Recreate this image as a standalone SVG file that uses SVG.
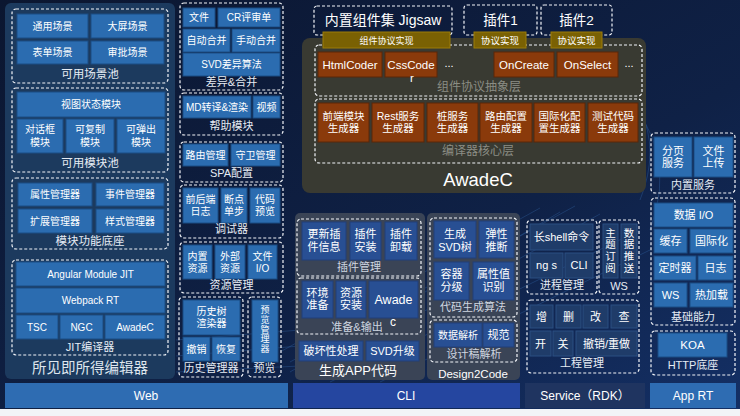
<svg xmlns="http://www.w3.org/2000/svg" width="740" height="416" viewBox="0 0 740 416">
<defs>
<linearGradient id="bg" x1="0" y1="0" x2="1" y2="1">
<stop offset="0" stop-color="#0b1630"/>
<stop offset="0.6" stop-color="#0f2146"/>
<stop offset="1" stop-color="#143066"/>
</linearGradient>
<style>
.t{font-family:"Liberation Sans","Noto Sans CJK SC",sans-serif;fill:#fff;text-anchor:middle;font-size:10px}
.s11{font-size:11px}
.lb{font-family:"Liberation Sans","Noto Sans CJK SC",sans-serif;fill:#e6ecf4;text-anchor:middle;font-size:11px}
.gl{fill:#8b8d84;font-size:12px}
.bx{fill:#2b6cb0;stroke:#1b4c84;stroke-width:1}
.bm{fill:#284f93;stroke:#203f78;stroke-width:1}
.bd{fill:#1f3c69;stroke:#2b4e82;stroke-width:1}
.br{fill:#8a3a0b;stroke:#5a2608;stroke-width:1}
.gd{fill:#7a6103;stroke:#9c7c08;stroke-width:1}
.dg{fill:none;stroke:#f2f4f8;stroke-width:1.2;stroke-dasharray:3 2}
.bar{stroke:none}
.dl{fill:none;stroke:#3d7cc4;stroke-width:0.8;opacity:0.35}
</style>
</defs>
<rect width="740" height="416" fill="url(#bg)"/>
<g id="background-lines">
<path class="dl" d="M290,372 L560,212"/>
<path class="dl" d="M290,362 L575,206"/>
<path class="dl" d="M300,380 L600,214"/>
<path class="dl" d="M280,352 L540,208"/>
<path class="dl" d="M330,382 L640,230"/>
<path class="dl" d="M380,382 L650,250"/>
<path class="dl" d="M176,340 L300,330"/>
<path class="dl" d="M176,356 L300,346"/>
<path class="dl" d="M176,372 L300,366"/>
<path class="dl" d="M640,110 Q660,150 640,200"/>
<path class="dl" d="M620,90 Q680,150 650,230"/>
</g>
<rect x="0" y="409" width="740" height="7" fill="#f2f4f7"/>

<!-- Web panel -->
<g id="web-panel">
<rect x="5" y="3" width="170" height="376" rx="6" fill="#1c3a5e"/>
<text class="lb" x="90" y="373" style="font-size:14.5px;fill:#dfe6ee">所见即所得编辑器</text>
</g>

<g id="scene-pool">
<rect class="dg" x="12" y="9" width="156" height="74" rx="4"/>
<rect class="bx" x="17" y="14" width="71" height="24"/><text class="t" x="52.5" y="29.5">通用场景</text>
<rect class="bx" x="91" y="14" width="73" height="24"/><text class="t" x="127.5" y="29.5">大屏场景</text>
<rect class="bx" x="17" y="41" width="71" height="23"/><text class="t" x="52.5" y="56">表单场景</text>
<rect class="bx" x="91" y="41" width="73" height="23"/><text class="t" x="127.5" y="56">审批场景</text>
<text class="lb" x="90" y="77.5" style="font-size:11.5px">可用场景池</text>
</g>

<g id="module-pool">
<rect class="dg" x="12" y="88" width="156" height="84" rx="4"/>
<rect class="bx" x="17" y="92" width="148" height="25"/><text class="t" x="91" y="108">视图状态模块</text>
<rect class="bx" x="17" y="119" width="46" height="34"/><text class="t" x="40" y="133"><tspan x="40">对话框</tspan><tspan x="40" dy="12.5">模块</tspan></text>
<rect class="bx" x="66" y="119" width="48" height="34"/><text class="t" x="90" y="133"><tspan x="90">可复制</tspan><tspan x="90" dy="12.5">模块</tspan></text>
<rect class="bx" x="117" y="119" width="48" height="34"/><text class="t" x="141" y="133"><tspan x="141">可弹出</tspan><tspan x="141" dy="12.5">模块</tspan></text>
<text class="lb" x="90" y="166.5" style="font-size:11.5px">可用模块池</text>
</g>

<g id="module-base">
<rect class="dg" x="12" y="178" width="156" height="71" rx="4"/>
<rect class="bx" x="18" y="183" width="74" height="23"/><text class="t" x="55" y="198">属性管理器</text>
<rect class="bx" x="96" y="183" width="68" height="23"/><text class="t" x="130" y="198">事件管理器</text>
<rect class="bx" x="18" y="209" width="74" height="24"/><text class="t" x="55" y="224.5">扩展管理器</text>
<rect class="bx" x="96" y="209" width="68" height="24"/><text class="t" x="130" y="224.5">样式管理器</text>
<text class="lb" x="90" y="244.5" style="font-size:11.5px">模块功能底座</text>
</g>

<g id="jit">
<rect class="dg" x="12" y="260" width="156" height="95" rx="4"/>
<rect class="bx" x="16" y="262" width="149" height="24"/><text class="t" x="90.5" y="277.5">Angular Module JIT</text>
<rect class="bx" x="16" y="288" width="149" height="25"/><text class="t" x="90.5" y="304">Webpack RT</text>
<rect class="bx" x="16" y="315" width="42" height="24"/><text class="t" x="37" y="330.5">TSC</text>
<rect class="bx" x="60" y="315" width="43" height="24"/><text class="t" x="81.5" y="330.5">NGC</text>
<rect class="bx" x="105" y="315" width="60" height="24"/><text class="t" x="135" y="330.5">AwadeC</text>
<text class="lb" x="90" y="351">JIT编译器</text>
</g>

<!-- column 2 -->
<g id="diff-merge">
<rect class="dg" x="180" y="3" width="103" height="87" rx="4"/>
<rect class="bx" x="183" y="8" width="32" height="19"/><text class="t" x="199" y="21">文件</text>
<rect class="bx" x="218" y="8" width="62" height="19"/><text class="t" x="249" y="21">CR评审单</text>
<rect class="bx" x="183" y="29" width="47" height="23"/><text class="t" x="206.5" y="44">自动合并</text>
<rect class="bx" x="232" y="29" width="48" height="23"/><text class="t" x="256" y="44">手动合并</text>
<rect class="bx" x="183" y="53" width="97" height="23"/><text class="t" x="231.5" y="68">SVD差异算法</text>
<text class="lb" x="231.5" y="86">差异&amp;合并</text>
</g>

<g id="help">
<rect class="dg" x="180" y="93" width="103" height="42" rx="4"/>
<rect class="bx" x="183" y="96" width="68" height="22"/><text class="t" x="217" y="110.5">MD转译&amp;渲染</text>
<rect class="bx" x="253" y="96" width="27" height="22"/><text class="t" x="266.5" y="110.5">视频</text>
<text class="lb" x="231.5" y="130">帮助模块</text>
</g>

<g id="spa">
<rect class="dg" x="180" y="142" width="103" height="40" rx="4"/>
<rect class="bx" x="183" y="144" width="45" height="22"/><text class="t" x="205.5" y="158.5">路由管理</text>
<rect class="bx" x="231" y="144" width="49" height="22"/><text class="t" x="255.5" y="158.5">守卫管理</text>
<text class="lb" x="231.5" y="177">SPA配置</text>
</g>

<g id="debugger">
<rect class="dg" x="180" y="185" width="103" height="53" rx="4"/>
<rect class="bx" x="183" y="188" width="35" height="35"/><text class="t" x="200.5" y="202.5"><tspan x="200.5">前后端</tspan><tspan x="200.5" dy="12.5">日志</tspan></text>
<rect class="bx" x="221" y="188" width="26" height="35"/><text class="t" x="234" y="202.5"><tspan x="234">断点</tspan><tspan x="234" dy="12.5">单步</tspan></text>
<rect class="bx" x="250" y="188" width="30" height="35"/><text class="t" x="265" y="202.5"><tspan x="265">代码</tspan><tspan x="265" dy="12.5">预览</tspan></text>
<text class="lb" x="231.5" y="233">调试器</text>
</g>

<g id="resources">
<rect class="dg" x="180" y="242" width="103" height="51" rx="4"/>
<rect class="bx" x="183" y="245" width="29" height="34"/><text class="t" x="197.5" y="259.5"><tspan x="197.5">内置</tspan><tspan x="197.5" dy="12">资源</tspan></text>
<rect class="bx" x="215" y="245" width="30" height="34"/><text class="t" x="230" y="259.5"><tspan x="230">外部</tspan><tspan x="230" dy="12">资源</tspan></text>
<rect class="bx" x="248" y="245" width="29" height="34"/><text class="t" x="262.5" y="259.5"><tspan x="262.5">文件</tspan><tspan x="262.5" dy="12">I/O</tspan></text>
<text class="lb" x="231.5" y="289">资源管理</text>
</g>

<g id="history">
<rect class="dg" x="179" y="297" width="64" height="80" rx="4"/>
<rect class="bx" x="183" y="300" width="57" height="35"/><text class="t" x="211.5" y="314.5"><tspan x="211.5">历史树</tspan><tspan x="211.5" dy="12">渲染器</tspan></text>
<rect class="bx" x="183" y="337" width="27" height="24"/><text class="t" x="196.5" y="352.5">撤销</text>
<rect class="bx" x="212" y="337" width="28" height="24"/><text class="t" x="226" y="352.5">恢复</text>
<text class="lb" x="211" y="372">历史管理器</text>
</g>

<g id="preview">
<rect class="dg" x="248" y="297" width="33" height="80" rx="4"/>
<rect class="bx" x="252" y="300" width="26" height="62"/>
<text class="t" x="265" y="313" style="font-size:9px"><tspan x="265">预</tspan><tspan x="265" dy="9.8">览</tspan><tspan x="265" dy="9.8">管</tspan><tspan x="265" dy="9.8">理</tspan><tspan x="265" dy="9.8">器</tspan></text>
<text class="lb" x="264.5" y="372">预览</text>
</g>

<!-- AwadeC -->
<g id="awadec">
<rect x="302" y="38" width="344" height="155" rx="8" fill="#393a32"/>
<text class="t" x="478" y="185.5" style="font-size:18.5px">AwadeC</text>
</g>

<g id="jigsaw">
<rect class="dg" x="314" y="6" width="138" height="29" rx="3"/>
<text class="t" x="383" y="25" style="font-size:14px">内置组件集 Jigsaw</text>
</g>
<g id="plugin1">
<rect class="dg" x="464" y="5" width="73" height="30" rx="3"/>
<text class="t" x="500.5" y="25" style="font-size:13.5px">插件1</text>
</g>
<g id="plugin2">
<rect class="dg" x="541" y="5" width="71" height="30" rx="3"/>
<text class="t" x="576.5" y="25" style="font-size:13.5px">插件2</text>
</g>

<g id="protocol-layer">
<rect class="dg" x="315" y="45" width="327" height="51" rx="4"/>
<rect class="br" x="318" y="52" width="64" height="25"/><text class="t" x="350" y="68.5" style="font-size:11.5px">HtmlCoder</text>
<rect class="br" x="385" y="52" width="52" height="25"/><text class="t" x="411" y="68.5" style="font-size:11.5px">CssCode</text>
<text class="t" x="412" y="82" style="font-size:11.5px">r</text>
<text class="t" x="449" y="67" style="font-size:11px">...</text>
<rect class="br" x="494" y="52" width="60" height="25"/><text class="t" x="524" y="68.5" style="font-size:11.5px">OnCreate</text>
<rect class="br" x="557" y="52" width="61" height="25"/><text class="t" x="587.5" y="68.5" style="font-size:11.5px">OnSelect</text>
<text class="t" x="629" y="67" style="font-size:11px">...</text>
<text class="lb gl" x="479" y="90.5">组件协议抽象层</text>
</g>

<g id="impl-bars">
<rect class="gd" x="323" y="32" width="127" height="16"/><text class="t" x="386.5" y="43.5" style="font-size:9px">组件协议实现</text>
<rect class="gd" x="474" y="32" width="52" height="16"/><text class="t" x="500" y="43.5" style="font-size:9.5px">协议实现</text>
<rect class="gd" x="551" y="32" width="51" height="16"/><text class="t" x="576.5" y="43.5" style="font-size:9.5px">协议实现</text>
</g>

<g id="core-layer">
<rect class="dg" x="315" y="99" width="327" height="64" rx="4"/>
<rect class="br" x="318" y="103" width="51" height="39"/><text class="t" x="343.5" y="119.5" style="font-size:10.5px"><tspan x="343.5">前端模块</tspan><tspan x="343.5" dy="12.5">生成器</tspan></text>
<rect class="br" x="372" y="103" width="52" height="39"/><text class="t" x="398" y="119.5" style="font-size:10.5px"><tspan x="398">Rest服务</tspan><tspan x="398" dy="12.5">生成器</tspan></text>
<rect class="br" x="427" y="103" width="51" height="39"/><text class="t" x="452.5" y="119.5" style="font-size:10.5px"><tspan x="452.5">桩服务</tspan><tspan x="452.5" dy="12.5">生成器</tspan></text>
<rect class="br" x="480" y="103" width="52" height="39"/><text class="t" x="506" y="119.5" style="font-size:10.5px"><tspan x="506">路由配置</tspan><tspan x="506" dy="12.5">生成器</tspan></text>
<rect class="br" x="534" y="103" width="51" height="39"/><text class="t" x="559.5" y="119.5" style="font-size:10.5px"><tspan x="559.5">国际化配</tspan><tspan x="559.5" dy="12.5">置生成器</tspan></text>
<rect class="br" x="588" y="103" width="50" height="39"/><text class="t" x="613" y="119.5" style="font-size:10.5px"><tspan x="613">测试代码</tspan><tspan x="613" dy="12.5">生成器</tspan></text>
<text class="lb gl" x="478" y="154.5">编译器核心层</text>
</g>

<!-- CLI -->
<g id="gen-app">
<rect x="295" y="213" width="130" height="167" rx="5" fill="#3a4456"/>
<text class="t" x="358" y="375" style="font-size:13px">生成APP代码</text>
</g>
<g id="plugin-mgmt">
<rect class="dg" x="297" y="219" width="124" height="57" rx="4"/>
<rect class="bm" x="302" y="222" width="44" height="38"/><text class="t s11" x="324" y="237.5"><tspan x="324">更新插</tspan><tspan x="324" dy="13">件信息</tspan></text>
<rect class="bm" x="350" y="222" width="31" height="38"/><text class="t s11" x="365.5" y="237.5"><tspan x="365.5">插件</tspan><tspan x="365.5" dy="13">安装</tspan></text>
<rect class="bm" x="385" y="222" width="32" height="38"/><text class="t s11" x="401" y="237.5"><tspan x="401">插件</tspan><tspan x="401" dy="13">卸载</tspan></text>
<text class="lb" x="359" y="271" style="fill:#cfd6e0">插件管理</text>
</g>
<g id="prep-output">
<rect class="dg" x="297" y="278" width="124" height="56" rx="4"/>
<rect class="bm" x="302" y="281" width="31" height="37"/><text class="t s11" x="317.5" y="296.5"><tspan x="317.5">环境</tspan><tspan x="317.5" dy="12.5">准备</tspan></text>
<rect class="bm" x="336" y="281" width="30" height="37"/><text class="t s11" x="351" y="296.5"><tspan x="351">资源</tspan><tspan x="351" dy="12.5">安装</tspan></text>
<rect class="bm" x="369" y="281" width="49" height="37"/><text class="t" x="393.5" y="304" style="font-size:12.5px">Awade</text>
<text class="t" x="393" y="326" style="font-size:12px">c</text>
<text class="lb" x="357" y="331" style="fill:#cfd6e0">准备&amp;输出</text>
</g>
<g id="break-svd">
<rect class="bm" x="299" y="341" width="64" height="20"/><text class="t s11" x="331" y="355">破坏性处理</text>
<rect class="bm" x="366" y="341" width="53" height="20"/><text class="t s11" x="392.5" y="355">SVD升级</text>
</g>

<g id="design2code">
<rect x="427" y="213" width="93" height="167" rx="5" fill="#3a4456"/>
<text class="t" x="473" y="377.5" style="font-size:11.5px">Design2Code</text>
</g>
<g id="codegen-algo">
<rect class="dg" x="430" y="218" width="87" height="99" rx="4"/>
<rect class="bm" x="434" y="221" width="42" height="37"/><text class="t s11" x="455" y="237.5"><tspan x="455">生成</tspan><tspan x="455" dy="13">SVD树</tspan></text>
<rect class="bm" x="479" y="221" width="35" height="37"/><text class="t s11" x="496.5" y="237.5"><tspan x="496.5">弹性</tspan><tspan x="496.5" dy="13">推断</tspan></text>
<rect class="bm" x="434" y="262" width="35" height="38"/><text class="t s11" x="451.5" y="277.5"><tspan x="451.5">容器</tspan><tspan x="451.5" dy="13">分级</tspan></text>
<rect class="bm" x="473" y="262" width="41" height="38"/><text class="t s11" x="493.5" y="277.5"><tspan x="493.5">属性值</tspan><tspan x="493.5" dy="13">识别</tspan></text>
<text class="lb" x="473" y="311" style="fill:#cfd6e0">代码生成算法</text>
</g>
<g id="design-parse">
<rect class="dg" x="430" y="320" width="87" height="42" rx="4"/>
<rect class="bm" x="434" y="323" width="48" height="24"/><text class="t" x="458" y="338.5">数据解析</text>
<rect class="bm" x="483" y="323" width="31" height="24"/><text class="t s11" x="498.5" y="339">规范</text>
<text class="lb" x="474" y="358" style="fill:#cfd6e0">设计稿解析</text>
</g>

<g id="process-mgmt">
<rect class="dg" x="527" y="220" width="70" height="74" rx="4"/>
<rect class="bd" x="530" y="224" width="63" height="26"/><text class="t s11" x="561.5" y="240.5">长shell命令</text>
<rect class="bd" x="530" y="253" width="33" height="25"/><text class="t s11" x="546.5" y="269">ng s</text>
<rect class="bd" x="565" y="253" width="28" height="25"/><text class="t s11" x="579" y="269">CLI</text>
<text class="lb" x="562" y="289">进程管理</text>
</g>
<g id="ws">
<rect class="dg" x="599" y="220" width="40" height="74" rx="4"/>
<rect class="bd" x="603" y="224" width="15" height="54"/>
<text class="t" x="610.5" y="236.5" style="font-size:10.5px"><tspan x="610.5">主</tspan><tspan x="610.5" dy="11.7">题</tspan><tspan x="610.5" dy="11.7">订</tspan><tspan x="610.5" dy="11.7">阅</tspan></text>
<rect class="bd" x="621" y="224" width="16" height="54"/>
<text class="t" x="629" y="236.5" style="font-size:10.5px"><tspan x="629">数</tspan><tspan x="629" dy="11.7">据</tspan><tspan x="629" dy="11.7">推</tspan><tspan x="629" dy="11.7">送</tspan></text>
<text class="lb" x="619" y="289.5">WS</text>
</g>
<g id="project-mgmt">
<rect class="dg" x="527" y="300" width="112" height="73" rx="4"/>
<rect class="bd" x="530" y="305" width="23" height="23"/><text class="t s11" x="541.5" y="320.5">增</text>
<rect class="bd" x="556" y="305" width="25" height="23"/><text class="t s11" x="568.5" y="320.5">删</text>
<rect class="bd" x="583" y="305" width="25" height="23"/><text class="t s11" x="595.5" y="320.5">改</text>
<rect class="bd" x="611" y="305" width="26" height="23"/><text class="t s11" x="624" y="320.5">查</text>
<rect class="bd" x="530" y="331" width="21" height="25"/><text class="t s11" x="540.5" y="347.5">开</text>
<rect class="bd" x="553" y="331" width="20" height="25"/><text class="t s11" x="563" y="347.5">关</text>
<rect class="bd" x="576" y="331" width="61" height="25"/><text class="t s11" x="606.5" y="347.5">撤销/重做</text>
<text class="lb" x="582" y="367">工程管理</text>
</g>

<!-- App RT -->
<g id="builtin-service">
<rect class="dg" x="651" y="133" width="84" height="60" rx="4"/>
<rect class="bx" x="654" y="137" width="38" height="40"/><text class="t s11" x="673" y="154.5"><tspan x="673">分页</tspan><tspan x="673" dy="12.5">服务</tspan></text>
<rect class="bx" x="694" y="137" width="39" height="40"/><text class="t s11" x="713.5" y="154.5"><tspan x="713.5">文件</tspan><tspan x="713.5" dy="12.5">上传</tspan></text>
<text class="lb" x="693" y="189">内置服务</text>
</g>
<g id="base-ability">
<rect class="dg" x="651" y="198" width="84" height="127" rx="4"/>
<rect class="bx" x="654" y="203" width="79" height="24"/><text class="t s11" x="693.5" y="219">数据 I/O</text>
<rect class="bx" x="654" y="229" width="33" height="24"/><text class="t s11" x="670.5" y="245">缓存</text>
<rect class="bx" x="690" y="229" width="43" height="24"/><text class="t s11" x="711.5" y="245">国际化</text>
<rect class="bx" x="654" y="256" width="42" height="24"/><text class="t s11" x="675" y="272">定时器</text>
<rect class="bx" x="698" y="256" width="35" height="24"/><text class="t s11" x="715.5" y="272">日志</text>
<rect class="bx" x="654" y="283" width="33" height="24"/><text class="t s11" x="670.5" y="299">WS</text>
<rect class="bx" x="690" y="283" width="43" height="24"/><text class="t s11" x="711.5" y="299">热加载</text>
<text class="lb" x="693" y="321">基础能力</text>
</g>
<g id="http-base">
<rect class="dg" x="651" y="331" width="84" height="44" rx="4"/>
<rect class="bx" x="658" y="333" width="69" height="24"/><text class="t" x="692.5" y="349" style="font-size:11.5px">KOA</text>
<text class="lb" x="693" y="369">HTTP底座</text>
</g>

<!-- bottom bars -->
<g id="bar-web"><rect class="bar" x="5" y="383" width="283" height="25" fill="#2e6cb2"/><text class="t" x="146" y="400" style="font-size:12px">Web</text></g>
<g id="bar-cli"><rect class="bar" x="293" y="383" width="227" height="25" fill="#2546a0"/><text class="t" x="406" y="400" style="font-size:12px">CLI</text></g>
<g id="bar-service"><rect class="bar" x="525" y="383" width="120" height="25" fill="#1f3460"/><text class="t" x="585" y="400" style="font-size:12px">Service（RDK）</text></g>
<g id="bar-apprt"><rect class="bar" x="650" y="383" width="86" height="25" fill="#2e6cb2"/><text class="t" x="693" y="400" style="font-size:12px">App RT</text></g>

<g id="connectors"></g>
</svg>
